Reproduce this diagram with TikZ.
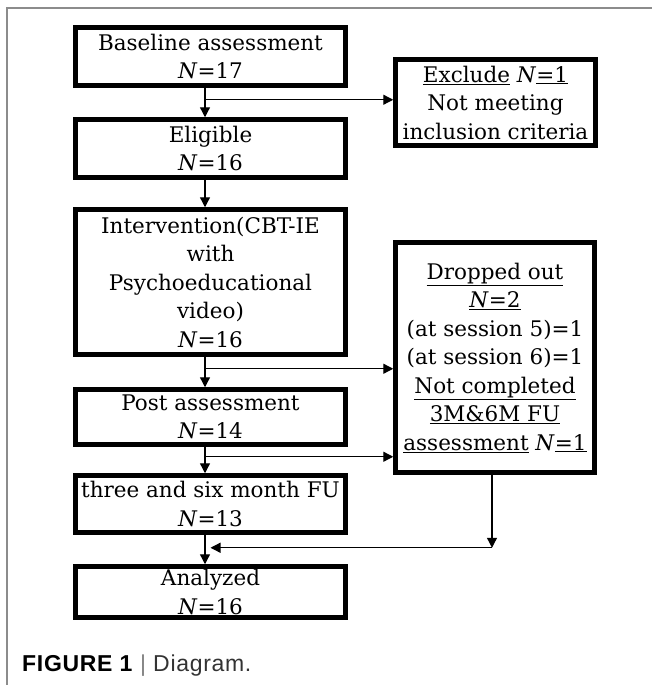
\documentclass[tikz,border=0pt]{standalone}
\usepackage{fontspec}
\usepackage{xcolor}
\usepackage{tikz}
\usetikzlibrary{positioning,
				arrows.meta,
				calc}
\newfontfamily\boxfont{DejaVu Serif}
\newfontfamily\capfont[LetterSpace=3]{Liberation Sans}

\begin{document}
\begin{tikzpicture}[x=1pt,y=-1pt,
  box/.style={draw, line width=4.5pt, align=center, inner sep=0pt,
    font=\boxfont\fontsize{21.5}{28.5}\selectfont},
  arr/.style={-{Triangle[length=10pt,width=10pt]}, line width=1.3pt},
  framegray/.style={draw=black!45, line width=1.5pt}]
  \useasboundingbox (0,0) rectangle (652,685);
  \draw[framegray] (7,685) -- (7,8) -- (652,8);
  \node[box, minimum width=270pt, minimum height=58pt] (base) at (210.5,56.5)
    {Baseline assessment\\ \textit{N}\/=17};
  \node[box, minimum width=270pt, minimum height=58pt] (elig) at (210.5,148.5)
    {Eligible\\ \textit{N}\/=16};
  \node[box, minimum width=270pt, minimum height=145pt] (interv) at (210.5,282)
    {Intervention(CBT-IE\\ with\\ Psychoeducational\\ video)\\ \textit{N}\/=16};
  \node[box, minimum width=270pt, minimum height=55pt] (post) at (210.5,417)
    {Post assessment\\ \textit{N}\/=14};
  \node[box, minimum width=270pt, minimum height=57pt] (three) at (210.5,504)
    {three and six month FU\\ \textit{N}\/=13};
  \node[box, minimum width=270pt, minimum height=51pt] (anal) at (210.5,592)
    {Analyzed\\ \textit{N}\/=16};
  \node[box, minimum width=200pt, minimum height=86pt] (excl) at (495.5,102.5)
    {\underline{Exclude} \textit{N}\/\underline{=1}\\ Not meeting\\ inclusion criteria};
  \node[box, minimum width=199pt, minimum height=230pt] (drop) at (495,357.5)
    {\underline{Dropped out}\\ \underline{\textit{N}\/=2}\\ (at session 5)=1\\ (at session 6)=1\\
     \underline{Not completed}\\ \underline{3M\&6M FU}\\ \underline{assessment} \textit{N}\/\underline{=1}};

  \draw[arr] ([xshift=-5.5pt]base.south) -- ([xshift=-5.5pt]elig.north);
  \draw[arr] ([xshift=-5.5pt]elig.south) -- ([xshift=-5.5pt]interv.north);
  \draw[arr] ([xshift=-5.5pt]interv.south) -- ([xshift=-5.5pt]post.north);
  \draw[arr] ([xshift=-5.5pt]post.south) -- ([xshift=-5.5pt]three.north);
  \draw[arr] ([xshift=-5.5pt]three.south) -- ([xshift=-5.5pt]anal.north);

  \coordinate (j1) at ([xshift=-5.5pt,yshift=-12pt]base.south);
  \coordinate (j2) at ([xshift=-5.5pt,yshift=-12pt]interv.south);
  \coordinate (j3) at ([xshift=-5.5pt,yshift=-10pt]post.south);
  \coordinate (turn) at ([xshift=-3pt,yshift=-73pt]drop.south);
  \coordinate (merge) at ([xshift=0pt,yshift=-13pt]three.south);
  \draw[arr] (j1) -- (j1 -| excl.west);
  \draw[arr] (j2) -- (j2 -| drop.west);
  \draw[arr] (j3) -- (j3 -| drop.west);
  \draw[arr] ([xshift=-3pt]drop.south) -- (turn);
  \draw[arr] (turn) -- (merge);

  \node[anchor=base west, inner sep=0pt, font=\capfont\fontsize{23}{27}\selectfont] (cap) at (22,671)
    {\textbf{FIGURE 1} {\color{black!50}|} {\color{black!80}Diagram.}};
\end{tikzpicture}
\end{document}
